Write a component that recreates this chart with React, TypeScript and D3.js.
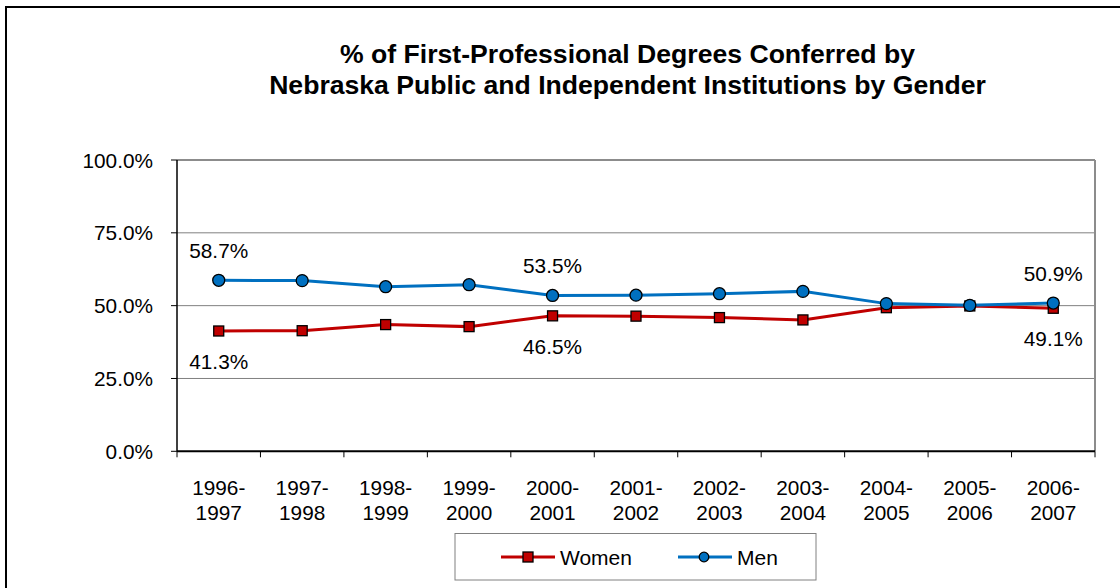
import React from "react";
import * as d3 from "d3";

const categories: string[][] = [
  ["1996-", "1997"],
  ["1997-", "1998"],
  ["1998-", "1999"],
  ["1999-", "2000"],
  ["2000-", "2001"],
  ["2001-", "2002"],
  ["2002-", "2003"],
  ["2003-", "2004"],
  ["2004-", "2005"],
  ["2005-", "2006"],
  ["2006-", "2007"],
];
const women: number[] = [41.3, 41.4, 43.5, 42.8, 46.5, 46.4, 45.9, 45.1, 49.3, 49.9, 49.1];
const men: number[] = [58.7, 58.6, 56.5, 57.2, 53.5, 53.6, 54.1, 54.9, 50.7, 50.1, 50.9];
const labeledIdx: number[] = [0, 4, 10];
const yTicks: number[] = [0, 25, 50, 75, 100];
const titleLines: string[] = [
  "% of First-Professional Degrees Conferred by",
  "Nebraska Public and Independent Institutions by Gender",
];

const FONT = "'Liberation Sans', Arial, Helvetica, sans-serif";
const RED = "#C00000";
const BLUE = "#0070C0";

export default function App() {
  const left = 177;
  const right = 1095;
  const top = 160;
  const bottom = 451.3;
  const keys = categories.map((c) => c.join(""));
  const x = d3.scaleBand<string>().domain(keys).range([left, right]);
  const cx = (i: number) => (x(keys[i]) as number) + x.bandwidth() / 2;
  const y = d3.scaleLinear().domain([0, 100]).range([bottom, top]);
  const line = d3
    .line<number>()
    .x((_, i) => cx(i))
    .y((d) => y(d));
  const fmt = (v: number) => v.toFixed(1) + "%";
  const FS = 20.8;

  return (
    <svg
      width={1120}
      height={588}
      style={{ position: "absolute", left: 0, top: 0, display: "block", background: "#fff" }}
      fontFamily={FONT}
    >
      <rect x={0} y={0} width={1120} height={588} fill="#fff" />
      {/* outer border */}
      <rect x={6} y={7} width={1300} height={800} fill="none" stroke="#000" strokeWidth={2} />

      {/* title */}
      {titleLines.map((t, i) => (
        <text
          key={i}
          x={627.5}
          y={63 + i * 31}
          textAnchor="middle"
          fontSize={26.6}
          fontWeight="bold"
          fill="#000"
        >
          {t}
        </text>
      ))}

      {/* gridlines */}
      {yTicks
        .filter((t) => t > 0 && t < 100)
        .map((t) => (
          <line key={t} x1={left} x2={right} y1={y(t)} y2={y(t)} stroke="#808080" strokeWidth={1} />
        ))}
      {/* plot border top/right */}
      <line x1={left} x2={right} y1={y(100)} y2={y(100)} stroke="#8c8c8c" strokeWidth={2} />
      <line x1={right} x2={right} y1={y(100)} y2={bottom} stroke="#8c8c8c" strokeWidth={2} />

      {/* y axis */}
      <line x1={left} x2={left} y1={y(100)} y2={bottom} stroke="#000" strokeWidth={1.5} />
      {yTicks.map((t) => (
        <g key={t}>
          <line x1={left - 6} x2={left} y1={y(t)} y2={y(t)} stroke="#000" strokeWidth={1} />
          <text x={153} y={y(t) + 7.5} textAnchor="end" fontSize={FS} fill="#000">
            {fmt(t)}
          </text>
        </g>
      ))}

      {/* x axis */}
      <line x1={left} x2={right} y1={bottom} y2={bottom} stroke="#000" strokeWidth={2} />
      {keys.map((k) => (
        <line
          key={"t" + k}
          x1={x(k) as number}
          x2={x(k) as number}
          y1={bottom}
          y2={bottom + 6}
          stroke="#000"
          strokeWidth={1}
        />
      ))}
      <line x1={right} x2={right} y1={bottom} y2={bottom + 6} stroke="#000" strokeWidth={1} />
      {categories.map((c, i) => (
        <text key={"l" + i} x={cx(i)} textAnchor="middle" fontSize={FS} fill="#000">
          <tspan x={cx(i)} y={495}>
            {c[0]}
          </tspan>
          <tspan x={cx(i)} y={519.5}>
            {c[1]}
          </tspan>
        </text>
      ))}

      {/* women series */}
      <path d={line(women) as string} fill="none" stroke={RED} strokeWidth={3} />
      {women.map((v, i) => (
        <rect
          key={"w" + i}
          x={cx(i) - 5}
          y={y(v) - 5}
          width={10}
          height={10}
          fill={RED}
          stroke="#000"
          strokeWidth={1.3}
        />
      ))}
      {/* men series */}
      <path d={line(men) as string} fill="none" stroke={BLUE} strokeWidth={3} />
      {men.map((v, i) => (
        <circle key={"m" + i} cx={cx(i)} cy={y(v)} r={6} fill={BLUE} stroke="#000" strokeWidth={1.3} />
      ))}

      {/* data labels */}
      {labeledIdx.map((i) => (
        <g key={"dl" + i}>
          <text x={cx(i)} y={y(men[i]) - 22} textAnchor="middle" fontSize={FS} fill="#000">
            {fmt(men[i])}
          </text>
          <text x={cx(i)} y={y(women[i]) + 38} textAnchor="middle" fontSize={FS} fill="#000">
            {fmt(women[i])}
          </text>
        </g>
      ))}

      {/* legend */}
      <rect x={455} y={533.5} width={361} height={46.5} fill="#fff" stroke="#808080" strokeWidth={1} />
      <line x1={501} x2={555} y1={557} y2={557} stroke={RED} strokeWidth={3} />
      <rect x={523} y={552} width={10} height={10} fill={RED} stroke="#000" strokeWidth={1.3} />
      <text x={560} y={565} fontSize={21} fill="#000">
        Women
      </text>
      <line x1={678} x2={732} y1={557} y2={557} stroke={BLUE} strokeWidth={3} />
      <circle cx={704} cy={557} r={4.8} fill={BLUE} stroke="#000" strokeWidth={1.3} />
      <text x={737} y={565} fontSize={21} fill="#000">
        Men
      </text>
    </svg>
  );
}
